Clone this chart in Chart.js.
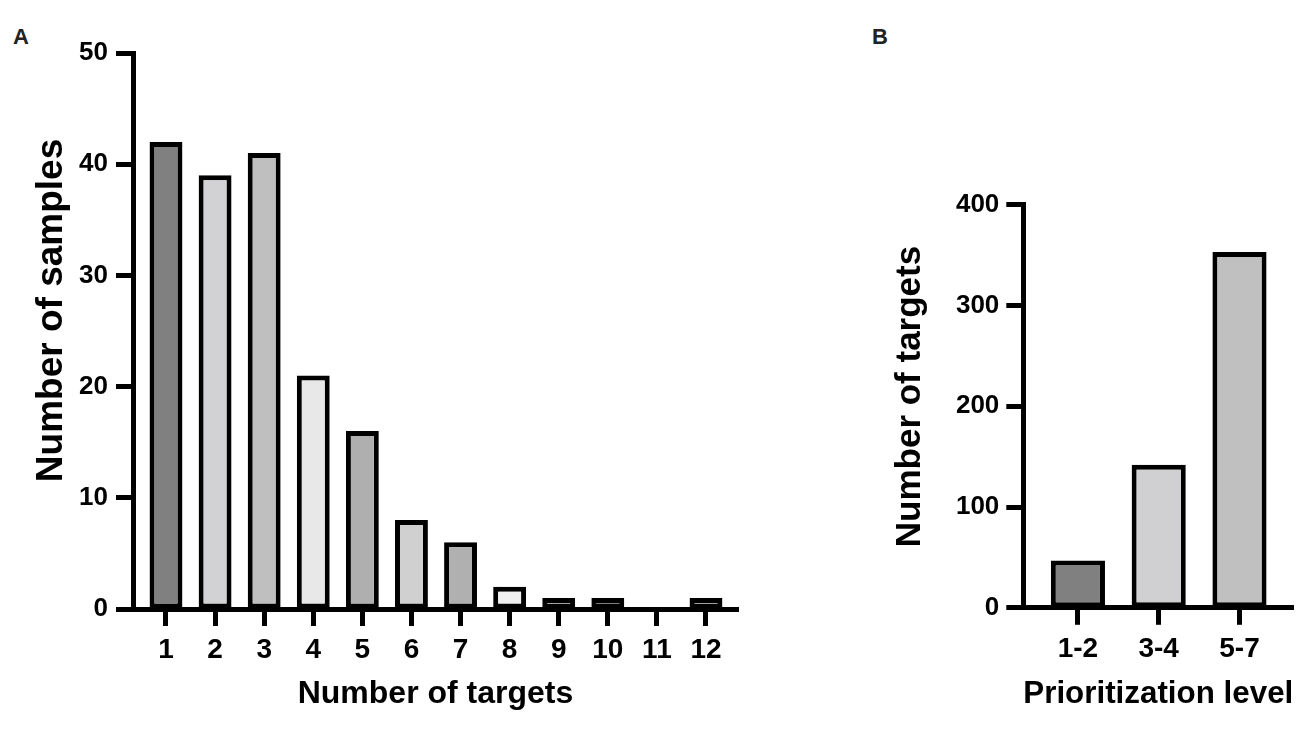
<!DOCTYPE html>
<html>
<head>
<meta charset="utf-8">
<script src="https://cdn.jsdelivr.net/npm/chart.js@4.4.1/dist/chart.umd.min.js"></script>
<style>
    body { margin: 0; background: #ffffff; }
    #page { position: relative; width: 1299px; height: 742px; overflow: hidden; }
    canvas { position: absolute; top: 0; }
    .panel-tag { position: absolute; font: bold 22px "Liberation Sans", Arial, sans-serif; color: #222; }
</style>
</head>
<body>
<div id="page">
    <div class="panel-tag" style="left: 13px; top: 24px;">A</div>
    <div class="panel-tag" style="left: 872px; top: 24px;">B</div>
    <canvas id="chartA" width="780" height="742" style="left: 0px;"></canvas>
    <canvas id="chartB" width="439" height="742" style="left: 860px;"></canvas>
</div>

<script>
// Panel A: how many samples had N targets
const targetCounts = [1, 2, 3, 4, 5, 6, 7, 8, 9, 10, 11, 12];
const sampleCounts = [42, 39, 41, 21, 16, 8, 6, 2, 1, 1, 0, 1];
const sampleColors = ['#808080', '#d2d2d4', '#bfbfbf', '#e8e8e8', '#afafaf', '#d0d0d0',
    '#b0b0b0', '#f0f0f0', '#c8c8c8', '#808080', '#c0c0c0', '#c0c0c0'];
const sampleTicks = [0, 10, 20, 30, 40, 50];

// Panel B: targets per prioritization level
const levels = ['1-2', '3-4', '5-7'];
const levelPositions = [1, 2, 3];
const targetsPerLevel = [47, 142, 353];
const levelColors = ['#808080', '#d0d0d2', '#c0c0c0'];
const targetTicks = [0, 100, 200, 300, 400];

const FONT = '"Liberation Sans", Arial, sans-serif';

// prism-like axis: thick black line + outside ticks, no grid
const axisStyle = (tickLen) => ({
    border: { display: true, color: '#000', width: 5 },
    grid: {
        display: true,
        offset: false,
        drawOnChartArea: false,
        drawTicks: true,
        tickLength: tickLen,
        tickColor: '#000',
        tickWidth: 5,
    },
});

const makeChart = (canvasId, cfg) => {
    const ctx = document.getElementById(canvasId).getContext('2d');
    return new Chart(ctx, {
        type: 'bar',
        data: {
            datasets: [{
                data: cfg.xs.map((x, i) => ({ x: x, y: cfg.ys[i] })),
                backgroundColor: cfg.colors,
                borderColor: '#000',
                borderWidth: 5,
                borderSkipped: false,
                categoryPercentage: 1,
                barPercentage: 0.67,
            }],
        },
        options: {
            responsive: false,
            animation: false,
            layout: { padding: cfg.padding },
            plugins: {
                legend: { display: false },
                tooltip: { enabled: false },
            },
            scales: {
                x: {
                    type: 'linear',
                    offset: false, // bar charts default to offset, we set the range ourselves
                    min: cfg.xMin,
                    max: cfg.xMax,
                    ...axisStyle(17),
                    afterBuildTicks: (scale) => {
                        scale.ticks = cfg.xs.map((v) => ({ value: v }));
                    },
                    afterFit: (scale) => { scale.height = cfg.xHeight; },
                    ticks: {
                        color: '#000',
                        padding: cfg.xTickPad,
                        font: { family: FONT, size: cfg.xTickSize, weight: 'bold' },
                        callback: cfg.xLabel,
                    },
                    title: {
                        display: true,
                        text: cfg.xTitle,
                        color: '#000',
                        padding: { top: 0, bottom: 29 },
                        font: { family: FONT, size: 32, weight: 'bold', lineHeight: 1.2 },
                    },
                },
                y: {
                    min: 0,
                    max: cfg.yMax,
                    ...axisStyle(17),
                    afterBuildTicks: (scale) => {
                        scale.ticks = cfg.yTicks.map((v) => ({ value: v }));
                    },
                    afterFit: (scale) => { scale.width = cfg.yWidth; },
                    ticks: {
                        color: '#000',
                        padding: cfg.yTickPad,
                        font: { family: FONT, size: cfg.yTickSize, weight: 'bold' },
                    },
                    title: {
                        display: true,
                        // leading spaces in the text nudge the rotated title up a bit
                        text: cfg.yTitle,
                        color: '#000',
                        padding: { top: cfg.yTitlePad, bottom: 0 },
                        font: { family: FONT, size: cfg.yTitleSize, weight: 'bold', lineHeight: 1.2 },
                    },
                },
            },
        },
    });
};

makeChart('chartA', {
    xs: targetCounts,
    ys: sampleCounts,
    colors: sampleColors,
    xMin: 0.328,
    xMax: 12.652,
    yMax: 50,
    yTicks: sampleTicks,
    xLabel: (value) => String(value),
    xTitle: 'Number of targets',
    yTitle: '    Number of samples',
    padding: { top: 53, right: 42, left: 0, bottom: 0 },
    xHeight: 133,
    yWidth: 133,
    xTickPad: 7,
    yTickPad: 8,
    xTickSize: 28,
    yTickSize: 26,
    yTitleSize: 37,
    yTitlePad: 30,
});

makeChart('chartB', {
    xs: levelPositions,
    ys: targetsPerLevel,
    colors: levelColors,
    xMin: 0.324,
    xMax: 3.666,
    yMax: 400,
    yTicks: targetTicks,
    xLabel: (value) => levels[value - 1],
    xTitle: 'Prioritization level',
    yTitle: '  Number of targets',
    padding: { top: 204.7, right: 5.7, left: 0, bottom: 0 },
    xHeight: 134.2,
    yWidth: 163.3,
    xTickPad: 8,
    yTickPad: 7,
    xTickSize: 28,
    yTickSize: 26,
    yTitleSize: 35,
    yTitlePad: 29,
});
</script>
</body>
</html>
